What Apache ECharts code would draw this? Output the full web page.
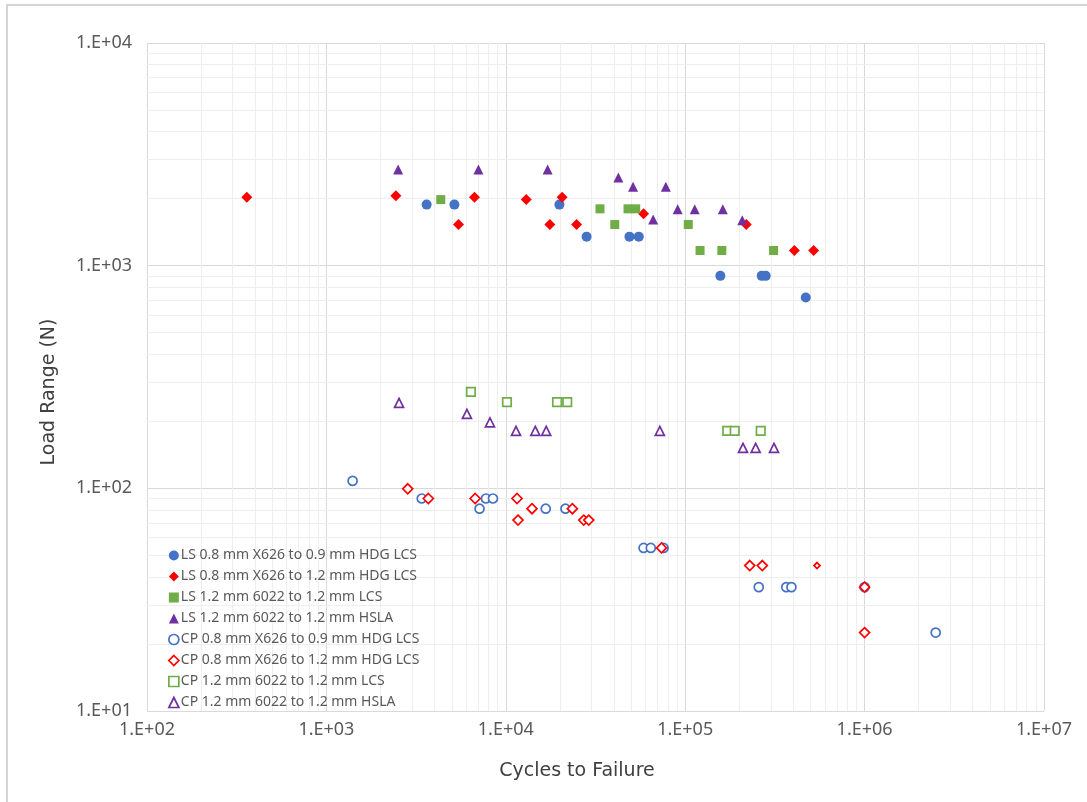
<!DOCTYPE html>
<html>
<head>
<meta charset="utf-8">
<script src="https://cdn.jsdelivr.net/npm/echarts@6/dist/echarts.min.js"></script>
<style>
html,body{margin:0;padding:0;background:#fff;}
#chart{width:1087px;height:802px;}
</style>
</head>
<body>
<div id="chart"></div>
<script>
// ---- data (cycles to failure, load range N) ----
const seriesNames = [
  "LS 0.8 mm X626 to 0.9 mm HDG LCS",
  "LS 0.8 mm X626 to 1.2 mm HDG LCS",
  "LS 1.2 mm 6022 to 1.2 mm LCS",
  "LS 1.2 mm 6022 to 1.2 mm HSLA",
  "CP 0.8 mm X626 to 0.9 mm HDG LCS",
  "CP 0.8 mm X626 to 1.2 mm HDG LCS",
  "CP 1.2 mm 6022 to 1.2 mm LCS",
  "CP 1.2 mm 6022 to 1.2 mm HSLA"
];
const lsX626to09 = [[3620,1880],[5170,1880],[19900,1880],[28200,1350],[48900,1350],[55100,1350],[157000,900],[267000,900],[281000,900],[470000,720]];
const lsX626to12 = [[360,2030],[2440,2060],[5450,1530],[6690,2030],[13000,1980],[17600,1530],[20600,2030],[24800,1530],[58600,1710],[219000,1530],[406000,1170],[520000,1170]];
const ls6022toLCS = [[4340,1980],[33500,1800],[40500,1530],[48000,1800],[53000,1800],[104000,1530],[121000,1170],[160000,1170],[311000,1170]];
const ls6022toHSLA = [[2510,2700],[7040,2700],[17100,2700],[42400,2490],[51200,2260],[78000,2260],[66300,1610],[90800,1790],[113000,1790],[162000,1790],[208000,1600]];
const cpX626to09 = [[1400,108],[3400,90],[7140,81],[7750,90],[8480,90],[16700,81],[21500,81],[58600,54],[64300,54],[75800,54],[257000,36],[366000,36],[391000,36],[1000000,36],[2490000,22.5]];
const cpX626to12 = [[2840,99.5],[3700,90],[6750,90],[11550,90],[11700,72],[14000,81],[23500,81],[27200,72],[29000,72],[73800,54],[229000,45],[269000,45],[543000,45],[1000000,36],[1000000,22.5]];
const cp6022toLCS = [[6390,271],[10150,244],[19300,244],[22000,244],[171500,181],[188800,181],[263600,181]];
const cp6022toHSLA = [[2540,242],[6070,216],[8160,198],[11400,181],[14600,181],[16800,181],[72200,181],[210000,152],[247000,152],[312600,152]];
const xTickExponents = [2,3,4,5,6,7];
const yTickExponents = [1,2,3,4];

// ---- styling ----
const BLUE = '#4472C4', RED = '#FF0000', GREEN = '#70AD47', PURPLE = '#7030A0';
const allData = [lsX626to09, lsX626to12, ls6022toLCS, ls6022toHSLA, cpX626to09, cpX626to12, cp6022toLCS, cp6022toHSLA];
const styles = [
  {symbol:'circle', size:10, color:BLUE, open:false},
  {symbol:'diamond', size:11, color:RED, open:false},
  {symbol:'rect', size:9, color:GREEN, open:false},
  {symbol:'triangle', size:10, color:PURPLE, open:false},
  {symbol:'circle', size:9, color:BLUE, open:true},
  {symbol:'diamond', size:10, color:RED, open:true},
  {symbol:'rect', size:8.5, color:GREEN, open:true},
  {symbol:'triangle', size:9, color:PURPLE, open:true}
];
// one smaller marker in the CP X626 to 1.2 series
const smallMarker = {series:5, index:12, size:6};

const fmt = v => {
  const e = Math.round(Math.log10(v));
  return '1.E+' + (e < 10 ? '0' + e : String(e));
};

const minorX = [], minorY = [];
for (let k = 2; k <= 6; k++) for (let m = 2; m <= 9; m++) minorX.push(m * Math.pow(10, k));
for (let k = 1; k <= 3; k++) for (let m = 2; m <= 9; m++) minorY.push(m * Math.pow(10, k));

const itemStyleOf = s => s.open
  ? {color:'#FFFFFF', borderColor:s.color, borderWidth:1.7, opacity:1}
  : {color:s.color, borderWidth:0, borderColor:s.color, opacity:1};

const series = [{
  name: '__grid', type: 'scatter', data: [], silent: true, z: 0,
  markLine: {
    silent: true, symbol: ['none','none'], animation: false, z: 0,
    label: {show:false},
    lineStyle: {color:'#EEEEEE', width:1, type:'solid'},
    emphasis: {disabled:true},
    data: minorX.map(v => ({xAxis: v})).concat(minorY.map(v => ({yAxis: v})))
  }
}];
allData.forEach((d, i) => {
  const s = styles[i];
  const data = d.map((p, j) => {
    if (i === smallMarker.series && j === smallMarker.index) return {value: p, symbolSize: smallMarker.size};
    return p;
  });
  series.push({
    name: seriesNames[i], type: 'scatter', data: data, z: 3,
    symbol: s.symbol, symbolSize: s.size,
    itemStyle: itemStyleOf(s),
    emphasis: {disabled:true}
  });
});

const chart = echarts.init(document.getElementById('chart'), null, {renderer:'canvas'});
chart.setOption({
  animation: false,
  backgroundColor: '#FFFFFF',
  grid: {left:147, top:43, width:897, height:668, containLabel:false},
  xAxis: {
    type: 'log', logBase: 10, min: Math.pow(10, xTickExponents[0]), max: Math.pow(10, xTickExponents[xTickExponents.length-1]),
    axisLine: {show:false}, axisTick: {show:false},
    axisLabel: {formatter: fmt, color:'#595959', fontSize:18, fontFamily:'Noto Sans', margin:10},
    splitLine: {show:true, lineStyle:{color:'#D9D9D9', width:1}}
  },
  yAxis: {
    type: 'log', logBase: 10, min: Math.pow(10, yTickExponents[0]), max: Math.pow(10, yTickExponents[yTickExponents.length-1]),
    axisLine: {show:false}, axisTick: {show:false},
    axisLabel: {formatter: fmt, color:'#595959', fontSize:18, fontFamily:'Noto Sans', margin:15},
    splitLine: {show:true, lineStyle:{color:'#D9D9D9', width:1}}
  },
  legend: {
    orient: 'vertical', left: 163, top: 540, padding: 5, z: 6,
    itemWidth: 10, itemHeight: 10, itemGap: 0,
    data: seriesNames.map((n, i) => ({name: n, icon: styles[i].symbol, itemStyle: itemStyleOf(styles[i])})),
    selectedMode: false,
    textStyle: {color:'#595959', fontSize:14, fontFamily:'Noto Sans', lineHeight:21, padding:[0,0,0,-3]}
  },
  graphic: [
    {type:'rect', shape:{x:7, y:5, width:1200, height:1000}, style:{fill:'none', stroke:'#C8C8C8', lineWidth:1.5}, silent:true, z:-10},
    {type:'text', x:577, y:771, style:{text:'Cycles to Failure', fontFamily:'DejaVu Sans', fontSize:19, fill:'#404040', align:'center', verticalAlign:'middle'}},
    {type:'text', x:49, y:392, rotation:Math.PI/2, style:{text:'Load Range (N)', fontFamily:'DejaVu Sans', fontSize:19, fill:'#404040', align:'center', verticalAlign:'middle'}}
  ],
  series: series
});
</script>
</body>
</html>
